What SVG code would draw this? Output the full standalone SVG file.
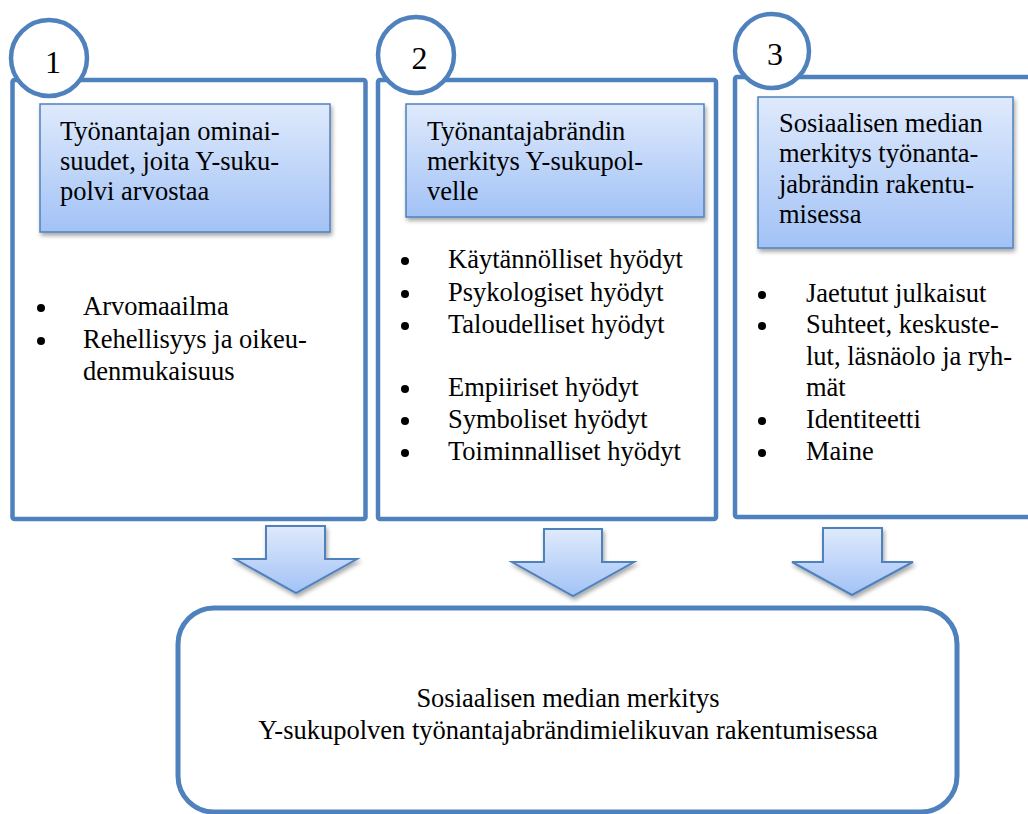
<svg xmlns="http://www.w3.org/2000/svg" width="1028" height="814" viewBox="0 0 1028 814">
<style>
  .outer{fill:#fff;stroke:#4f81bd;stroke-width:4.5}
  .num{fill:#fff;stroke:#4f81bd;stroke-width:4.5}
  .inner{fill:url(#g);stroke:#4f81bd;stroke-width:1.5;filter:url(#sh)}
  .arrow{fill:url(#g);stroke:#4f81bd;stroke-width:2;stroke-linejoin:miter;filter:url(#sh)}
  .t{font-family:"Liberation Serif","Times New Roman",serif;font-size:26.5px;fill:#000}
  .n{font-family:"Liberation Serif","Times New Roman",serif;font-size:32px;fill:#000;text-anchor:middle}
  .c{text-anchor:middle}
  .dot{fill:#000}
</style>
<defs>
  <linearGradient id="g" x1="0" y1="0" x2="0" y2="1">
    <stop offset="0" stop-color="#dfeafc"/>
    <stop offset="1" stop-color="#a2c2f6"/>
  </linearGradient>
  <filter id="sh" x="-10%" y="-10%" width="130%" height="140%">
    <feDropShadow dx="1.5" dy="3" stdDeviation="2.2" flood-color="#000" flood-opacity="0.35"/>
  </filter>
</defs>
<rect width="1028" height="814" fill="#fff"/>

<g id="box1">
  <rect class="outer" x="12.5" y="80" width="353" height="439" rx="2"/>
  <circle class="num" cx="49" cy="58" r="38"/>
  <text class="n" x="53" y="73">1</text>
  <rect class="inner" x="40" y="104" width="290" height="128"/>
  <text class="t" x="60" y="140">Työnantajan ominai-</text>
  <text class="t" x="60" y="170">suudet, joita Y-suku-</text>
  <text class="t" x="60" y="200">polvi arvostaa</text>
  <circle class="dot" cx="41" cy="308" r="4"/>
  <text class="t" x="83" y="315">Arvomaailma</text>
  <circle class="dot" cx="41" cy="341" r="4"/>
  <text class="t" x="83" y="348">Rehellisyys ja oikeu-</text>
  <text class="t" x="83" y="380">denmukaisuus</text>
</g>

<g id="box2">
  <rect class="outer" x="378" y="80" width="338" height="439" rx="2"/>
  <circle class="num" cx="416" cy="55" r="38"/>
  <text class="n" x="419.5" y="69">2</text>
  <rect class="inner" x="406" y="104" width="298" height="113"/>
  <text class="t" x="427" y="140">Työnantajabrändin</text>
  <text class="t" x="427" y="170">merkitys Y-sukupol-</text>
  <text class="t" x="427" y="200">velle</text>
  <circle class="dot" cx="405" cy="261" r="4"/>
  <text class="t" x="448" y="268">Käytännölliset hyödyt</text>
  <circle class="dot" cx="405" cy="294" r="4"/>
  <text class="t" x="448" y="301">Psykologiset hyödyt</text>
  <circle class="dot" cx="405" cy="326" r="4"/>
  <text class="t" x="448" y="333">Taloudelliset hyödyt</text>
  <circle class="dot" cx="405" cy="389" r="4"/>
  <text class="t" x="448" y="396">Empiiriset hyödyt</text>
  <circle class="dot" cx="405" cy="421" r="4"/>
  <text class="t" x="448" y="428">Symboliset hyödyt</text>
  <circle class="dot" cx="405" cy="453" r="4"/>
  <text class="t" x="448" y="460">Toiminnalliset hyödyt</text>
</g>

<g id="box3">
  <rect class="outer" x="735" y="77" width="310" height="440" rx="2"/>
  <circle class="num" cx="772" cy="51" r="37"/>
  <text class="n" x="775" y="65">3</text>
  <rect class="inner" x="758" y="97" width="255" height="151"/>
  <text class="t" x="779" y="132">Sosiaalisen median</text>
  <text class="t" x="779" y="162">merkitys työnanta-</text>
  <text class="t" x="779" y="193">jabrändin rakentu-</text>
  <text class="t" x="779" y="223">misessa</text>
  <circle class="dot" cx="762" cy="295" r="4"/>
  <text class="t" x="806" y="302">Jaetutut julkaisut</text>
  <circle class="dot" cx="762" cy="326" r="4"/>
  <text class="t" x="806" y="333">Suhteet, keskuste-</text>
  <text class="t" x="806" y="365">lut, läsnäolo ja ryh-</text>
  <text class="t" x="806" y="396">mät</text>
  <circle class="dot" cx="762" cy="421" r="4"/>
  <text class="t" x="806" y="428">Identiteetti</text>
  <circle class="dot" cx="762" cy="453" r="4"/>
  <text class="t" x="806" y="460">Maine</text>
</g>

<g id="connectors">
  <polygon class="arrow" points="266,526 325,526 325,559 357,559 296,593 235,559 266,559"/>
  <polygon class="arrow" points="544,529 602,529 602,562 634,562 573,596 512,562 544,562"/>
  <polygon class="arrow" points="823,528 882,528 882,562 913,562 852,595 792,562 823,562"/>
</g>

<g id="result">
  <rect x="178" y="608" width="779" height="204" rx="36" fill="#fff" stroke="#4f81bd" stroke-width="5"/>
  <text class="t c" x="568" y="707">Sosiaalisen median merkitys</text>
  <text class="t c" x="568" y="739">Y-sukupolven työnantajabrändimielikuvan rakentumisessa</text>
</g>
</svg>
